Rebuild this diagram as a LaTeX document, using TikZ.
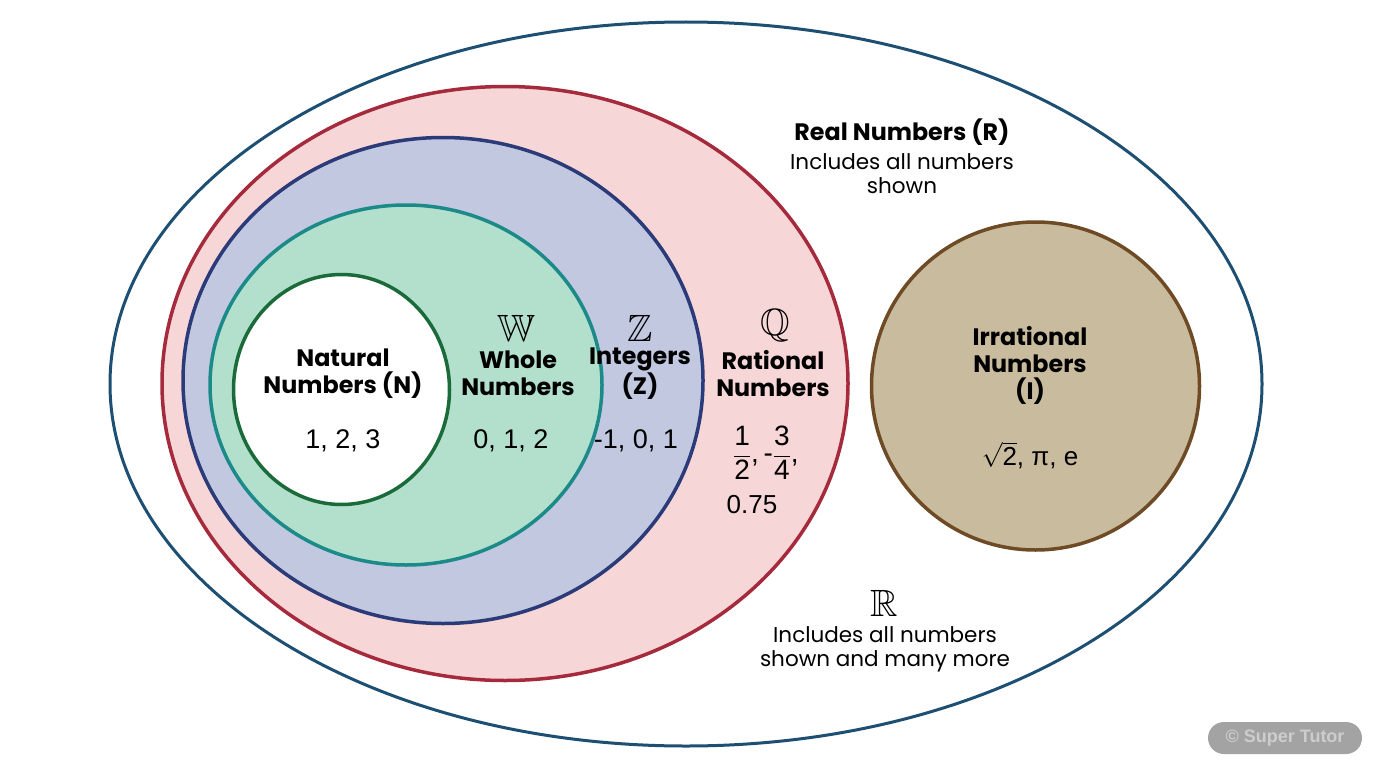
\documentclass[tikz,border=0pt]{standalone}
\usepackage{amsmath,amssymb}
\usepackage{fontspec}
\setmainfont{Liberation Sans}
\newfontfamily\headfont{Poppins}
\definecolor{realc}{HTML}{1D4F73}
\definecolor{ratb}{HTML}{A52A3C}
\definecolor{ratf}{HTML}{F7D6D7}
\definecolor{intb}{HTML}{2B3A78}
\definecolor{intf}{HTML}{C1C8E0}
\definecolor{whob}{HTML}{1B8A88}
\definecolor{whof}{HTML}{B3E0CD}
\definecolor{natb}{HTML}{1B6B3A}
\definecolor{irrb}{HTML}{6E4A25}
\definecolor{irrf}{HTML}{C9BB9E}
\definecolor{wmf}{HTML}{A3A3A3}
\definecolor{wmt}{HTML}{CDCDCD}
\tikzset{
  head/.style={align=center,inner sep=0pt,font=\headfont\bfseries\fontsize{23.8}{27}\selectfont},
  body/.style={align=center,inner sep=0pt,font=\headfont\fontsize{21.5}{24}\selectfont},
  nums/.style={inner sep=0pt,font=\fontsize{27}{28}\selectfont},
  bb/.style={inner sep=0pt,font=\fontsize{38}{40}\selectfont},
}
\begin{document}
\begin{tikzpicture}[x=1pt,y=-1pt]
\useasboundingbox (0,0) rectangle (1376,768);
\fill[white] (0,0) rectangle (1376,768);
% sets
\draw[realc,line width=3pt] (686,384) ellipse [x radius=576pt, y radius=362pt];
\draw[ratb,fill=ratf,line width=3.5pt] (505,383.5) ellipse [x radius=343pt, y radius=297pt];
\draw[intb,fill=intf,line width=3.5pt] (443,380.5) ellipse [x radius=260pt, y radius=243pt];
\draw[whob,fill=whof,line width=3.5pt] (406,385) ellipse [x radius=196pt, y radius=180pt];
\draw[natb,fill=white,line width=3.5pt] (341.5,389.5) ellipse [x radius=108pt, y radius=115pt];
\draw[irrb,fill=irrf,line width=3.5pt] (1035.5,386) ellipse [x radius=164pt, y radius=164pt];
% Real
\node[head] (realt) at (902,132) {Real Numbers (R)};
\node[body] (realb) at (902,174) {Includes all numbers\\shown};
\node[bb] (rbb) at (884,603) {$\mathbb{R}$};
\node[body] (realm) at (885,649) {Includes all numbers\\shown and many more};
% Natural
\node[head] (natt) at (343,373.5) {Natural\\Numbers (N)};
\node[nums] (natn) at (343,441) {1, 2, 3};
% Whole
\node[bb] (wbb) at (516,328) {$\mathbb{W}$};
\node[head] (whot) at (518,373.5) {Whole\\Numbers};
\node[nums] (whon) at (511,441) {0, 1, 2};
% Integers
\node[bb] (zbb) at (640,328) {$\mathbb{Z}$};
\node[head] (intt) at (640,373.5) {Integers\\(Z)};
\node[nums] (intn) at (636,441) {-1, 0, 1};
% Rational
\node[bb] (qbb) at (775,326) {$\mathbb{Q}$};
\node[head] (ratt) at (773,373.5) {Rational\\Numbers};
\node[nums,font=\fontsize{28}{28}\selectfont] (ratn) at (766,453) {$\dfrac{\text{1}}{\text{2}}$\text{,\,-}$\dfrac{\text{3}}{\text{4}}$\text{,}};
\node[nums,font=\fontsize{26}{28}\selectfont] (ratd) at (752,505) {0.75};
% Irrational
\node[head] (irrt) at (1030,365) {Irrational\\Numbers\\(I)};
\node[nums,font=\fontsize{26}{28}\selectfont] (irrn) at (1030,455) {$\sqrt{\text{2}}$, π, e};
% watermark
\node[fill=wmf,rounded corners=16pt,minimum width=154pt,minimum height=32pt,inner sep=0pt,text=wmt,font=\bfseries\fontsize{18}{20}\selectfont] (wm) at (1285,738) {© Super Tutor};
\end{tikzpicture}
\end{document}
